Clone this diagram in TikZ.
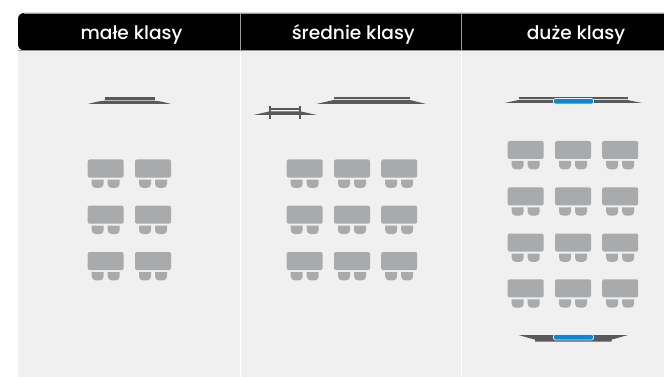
\documentclass[tikz,border=0pt]{standalone}
\usepackage{fontspec}
\setmainfont{Poppins}[UprightFont=* Medium]
\definecolor{body}{HTML}{F0F0F0}
\definecolor{desk}{HTML}{A9AAAC}
\definecolor{board}{HTML}{58595B}
\definecolor{screenblue}{HTML}{0A88D6}
\definecolor{edgegray}{HTML}{9A9A9A}
\tikzset{
  x=1pt,y=-1pt,
  headtext/.style={text=white,font=\fontsize{18.6}{22}\selectfont,inner sep=0pt,anchor=base},
  deskfill/.style={fill=desk,draw=none},
  boardfill/.style={fill=board,draw=none},
  screenbar/.style={fill=screenblue,draw=white!85!screenblue,line width=0.7pt,rounded corners=2pt},
  pics/seat/.style={code={
    \fill[deskfill,rounded corners=2pt] (0,0) rectangle (36,18);
    \fill[deskfill,rounded corners=4pt] (4,20) -- (4,28.4) -- (16,28.4) -- (16,20);
    \fill[deskfill,rounded corners=4pt] (20,20) -- (20,28.4) -- (32,28.4) -- (32,20);
  }}
}
\begin{document}
\begin{tikzpicture}
\useasboundingbox (0,0) rectangle (664,377);
\fill[white] (0,0) rectangle (664,377);
% panels
\fill[body] (18,50) rectangle (664,377);
\draw[white,line width=1pt] (240.5,50) -- (240.5,377);
\draw[white,line width=1pt] (461.5,50) -- (461.5,377);
% header band
\fill[black,rounded corners=6pt] (18,50.5) -- (18,13) -- (670,13) -- (670,50.5) -- cycle;
\fill[white] (664,0) rectangle (670,60);
\fill[black] (650,13) rectangle (664,50.5);
\draw[edgegray,line width=0.7pt] (240.5,13) -- (240.5,50.5);
\draw[edgegray,line width=0.7pt] (461.5,13) -- (461.5,50.5);
\draw[edgegray,line width=0.5pt] (24,13) -- (664,13);
\draw[edgegray,line width=0.5pt] (18,50.7) -- (664,50.7);
\node[headtext] (h1) at (131.5,39.5) {małe klasy};
\node[headtext] (h2) at (353.3,39.5) {średnie klasy};
\node[headtext] (h3) at (576,39.5) {duże klasy};
% left stage
\fill[boardfill] (104.5,97) rectangle (154.5,100);
\fill[boardfill] (88,104) .. controls (94,102.5) and (99,101) .. (104.5,100.7) -- (154.5,100.7) .. controls (160,101) and (165,102.5) .. (171,104) -- cycle;
% middle stage
\fill[boardfill] (333.5,97) rectangle (410,99.4);
\fill[boardfill] (316.5,104) -- (333.5,100) -- (410,100) -- (426,104) -- cycle;
\fill[boardfill] (270,108) rectangle (300,110.5);
\fill[boardfill] (253.5,115) -- (270,111.3) -- (300,111.3) -- (317,115) -- cycle;
\fill[boardfill] (269.2,106) rectangle (271.2,119);
\fill[boardfill] (299.2,106) rectangle (301.2,119);
% right stages
\fill[boardfill] (518.5,97) rectangle (627.5,99.4);
\fill[boardfill] (504.5,103) -- (518.5,100) -- (627.5,100) -- (642,103) -- cycle;
\draw[screenbar] (553.5,98.5) rectangle (593.5,104);
\fill[boardfill] (518.5,335) .. controls (524,336.5) and (530,338.5) .. (535,339.5) -- (535,341.7) -- (611.5,341.7) -- (611.5,339.5) .. controls (617,338.5) and (622,336.5) .. (628,335) -- cycle;
\draw[screenbar] (553.5,334.5) rectangle (593.5,340);
% seats: left
\foreach \yy in {159.5,205.7,252}{
  \foreach \xx in {87.7,135}{ \pic at (\xx,\yy) {seat}; }
}
% seats: middle
\foreach \yy in {159.5,205.7,252}{
  \foreach \xx in {286.7,334,381.2}{ \pic at (\xx,\yy) {seat}; }
}
% seats: right
\foreach \yy in {141,187.3,233.5,279.3}{
  \foreach \xx in {507.7,555,602.2}{ \pic at (\xx,\yy) {seat}; }
}
\end{tikzpicture}
\end{document}
